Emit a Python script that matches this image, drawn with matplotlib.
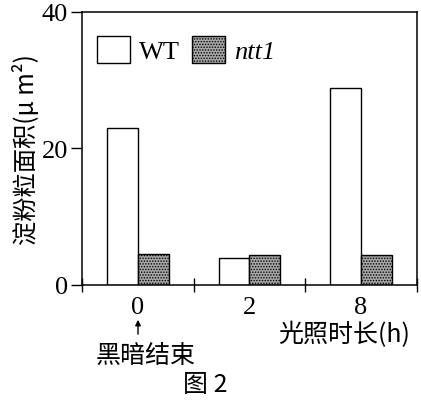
import matplotlib.pyplot as plt
import numpy as np

groups = ["0", "2", "8"]
wt = [23.0, 4.0, 28.8]
ntt1 = [4.5, 4.4, 4.4]

serif = "Liberation Serif"
cjk = ["Noto Sans CJK SC", "DejaVu Sans"]

fig = plt.figure(figsize=(4.21, 4.02), dpi=100)
ax = fig.add_axes([0.195, 0.289, 0.795, 0.679])

x = np.arange(len(groups))
w = 0.275
ax.bar(x - w / 2, wt, w, color="white", edgecolor="black", linewidth=1.0, label="WT")
plt.rcParams["hatch.linewidth"] = 0.7
ax.bar(x + w / 2, ntt1, w, color="#a8a8a8", edgecolor="black", hatch="......",
       linewidth=1.0, label="ntt1")

ax.set_xlim(-0.5, 2.5)
ax.set_ylim(0, 40)
ax.set_yticks([0, 20, 40])
ax.tick_params(axis="y", direction="out", length=8, width=1, labelsize=19, pad=2)
ax.set_xticks([-0.5, 0.5, 1.5, 2.5])
ax.set_xticklabels([])
ax.tick_params(axis="x", direction="inout", length=10, width=1)
for i, g in enumerate(groups):
    ax.text(i, -3.3, g, ha="center", va="center", fontsize=19, family=serif)
for lbl in ax.get_yticklabels():
    lbl.set_family(serif)
for s in ax.spines.values():
    s.set_linewidth(1.1)

ax.set_ylabel("淀粉粒面积(μ m²)", family=cjk, fontsize=17.5, labelpad=1)

leg = ax.legend(loc="upper left", bbox_to_anchor=(0.045, 0.91), ncol=2,
                frameon=False, borderpad=0, borderaxespad=0,
                handlelength=1.25, handleheight=1.15, handletextpad=0.35,
                columnspacing=0.45, prop={"family": serif, "size": 19})
leg.get_texts()[1].set_style("italic")

fig.text(0.975, 0.166, "光照时长(h)", ha="right", va="center", family=cjk, fontsize=18)
fig.text(0.345, 0.114, "黑暗结束", ha="center", va="center", family=cjk, fontsize=18)
fig.text(0.487, 0.042, "图 2", ha="center", va="center", family=cjk, fontsize=18)
ax.annotate("", xy=(138 / 421, 1 - 318 / 402), xytext=(138 / 421, 1 - 338 / 402),
            xycoords="figure fraction", textcoords="figure fraction",
            arrowprops=dict(arrowstyle="-|>", color="black", lw=1, mutation_scale=8))

fig.savefig("out.png", dpi=100)
